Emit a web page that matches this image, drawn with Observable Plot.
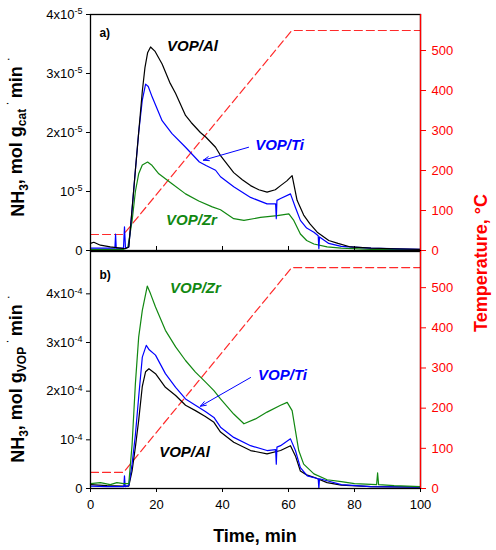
<!DOCTYPE html>
<html><head><meta charset="utf-8">
<script src="https://cdn.jsdelivr.net/npm/d3@7"></script>
<script src="https://cdn.jsdelivr.net/npm/@observablehq/plot@0.6"></script>
<style>
body{margin:0;background:#fff;}
#wrap{position:relative;width:496px;height:550px;overflow:hidden;background:#fff;}
#wrap > div, #wrap > svg{position:absolute;left:0;}
</style></head><body><div id="wrap"></div>
<script>
// ---------- Panel a) : NH3 per g cat (mantissa x 1e-5) ----------
const tAlA = [0, 1, 3, 6, 9, 10.5, 11.6, 12.6, 13.6, 14.6, 15.7, 16.5, 17.3, 18.2, 19.5, 21.7, 24, 25.8, 28.8, 30.5, 33.3, 35, 37.9, 39.4, 43.4, 46, 48.5, 51, 53.5, 56, 57.6, 59.5, 61.1, 62.6, 64.6, 66.5, 68.7, 72.2, 75, 78.8, 85, 92, 100];
const alA  = [0.12, 0.14, 0.09, 0.06, 0.04, 0.03, 0.06, 0.7, 1.36, 2.0, 2.7, 3.1, 3.35, 3.45, 3.38, 3.16, 2.85, 2.66, 2.29, 2.17, 2.0, 1.92, 1.75, 1.61, 1.32, 1.2, 1.1, 1.03, 0.99, 1.03, 1.10, 1.18, 1.27, 0.85, 0.6, 0.45, 0.31, 0.17, 0.12, 0.06, 0.04, 0.03, 0.02];

const tTiA = [0, 3, 7.4, 7.6, 7.8, 10, 10.3, 10.6, 11.6, 12.6, 13.6, 14.6, 15.7, 16.7, 17.5, 18.7, 21.7, 24.7, 28.8, 33, 35, 37.9, 39.4, 43.4, 48.5, 53.5, 56.1, 56.3, 56.5, 57.6, 60.6, 62.1, 63.6, 65.5, 67.7, 69, 69.2, 69.4, 72.2, 76, 85, 100];
const tiA  = [0.04, 0.04, 0.04, 0.28, 0.04, 0.04, 0.4, 0.04, 0.06, 0.7, 1.36, 2.0, 2.55, 2.82, 2.78, 2.6, 2.2, 1.98, 1.75, 1.5, 1.44, 1.36, 1.25, 1.08, 0.90, 0.79, 0.79, 0.54, 0.85, 0.88, 0.96, 0.73, 0.51, 0.38, 0.31, 0.25, 0.03, 0.23, 0.12, 0.07, 0.04, 0.02];

const tZrA = [0, 5, 10, 11.3, 12.6, 13.6, 14.6, 15.7, 17.3, 18.5, 20.7, 24.7, 28.8, 32.8, 36.9, 39.4, 43.4, 46.5, 51.5, 56.6, 60.1, 61.6, 63.6, 65.5, 67.7, 71.7, 76, 85, 100];
const zrA  = [0.02, 0.02, 0.02, 0.05, 0.5, 1.0, 1.3, 1.45, 1.50, 1.45, 1.30, 1.13, 0.96, 0.84, 0.74, 0.69, 0.54, 0.51, 0.56, 0.59, 0.62, 0.51, 0.28, 0.17, 0.11, 0.06, 0.04, 0.02, 0.01];

// ---------- Panel b) : NH3 per g VOP (mantissa x 1e-4) ----------
const tAlB = [0, 5, 10, 11.6, 12.6, 13.6, 14.6, 15.7, 16.7, 17.7, 19.7, 22.7, 25.8, 28.8, 31.8, 34.8, 37.4, 39.4, 43.4, 48.5, 53.5, 57.6, 60.6, 62.1, 63.6, 65.5, 67.7, 71.7, 76, 85, 100];
const alB  = [0.08, 0.06, 0.05, 0.05, 0.36, 0.85, 1.40, 2.10, 2.40, 2.46, 2.36, 2.08, 1.91, 1.71, 1.60, 1.48, 1.36, 1.16, 0.95, 0.78, 0.71, 0.78, 0.88, 0.67, 0.36, 0.28, 0.23, 0.12, 0.07, 0.04, 0.03];

const tTiB = [0, 5, 10.1, 10.3, 10.5, 11.6, 12.6, 13.6, 14.6, 15.7, 16.9, 17.8, 19.7, 22.7, 25.8, 28.8, 31.8, 34.8, 37.4, 39.4, 43.4, 48.5, 53.5, 56.1, 56.3, 56.5, 57.6, 60.6, 62.1, 63.6, 65.7, 69, 69.2, 69.4, 71.7, 76, 85, 100];
const tiB  = [0.05, 0.04, 0.04, 0.26, 0.04, 0.06, 0.5, 1.1, 1.88, 2.70, 2.94, 2.85, 2.74, 2.36, 2.08, 1.84, 1.71, 1.58, 1.46, 1.26, 1.05, 0.88, 0.78, 0.80, 0.50, 0.85, 0.88, 1.02, 0.78, 0.43, 0.26, 0.2, 0.0, 0.2, 0.16, 0.08, 0.04, 0.03];

const tZrB = [0, 3, 6, 8, 10, 11.6, 12.6, 13.6, 14.6, 15.7, 17.2, 18.2, 19.7, 22.7, 25.8, 28.8, 31.8, 34.8, 37.4, 39.4, 43.4, 46.5, 50, 53.5, 57.6, 59.6, 61.1, 62.1, 63.1, 64.6, 67.7, 71.7, 76, 80, 86.7, 87, 87.3, 92, 100];
const zrB  = [0.1, 0.12, 0.08, 0.12, 0.1, 0.1, 0.9, 2.15, 3.11, 3.66, 4.16, 4.0, 3.73, 3.25, 2.91, 2.63, 2.39, 2.19, 2.01, 1.84, 1.53, 1.33, 1.43, 1.57, 1.71, 1.77, 1.60, 1.19, 0.78, 0.50, 0.30, 0.18, 0.14, 0.1, 0.08, 0.32, 0.08, 0.06, 0.04];

// ---------- Temperature programme ----------
const tempT = [0, 10, 61, 100];
const tempV = [40, 40, 550, 550];

// ---------- Ticks ----------
const xTicks = [0, 20, 40, 60, 80, 100];
const xTicksInner = [20, 40, 60, 80];
const yTicksA = [0, 1e-5, 2e-5, 3e-5, 4e-5];
const yLabelsA = ["0", "10^-5", "2x10^-5", "3x10^-5", "4x10^-5"];
const yTicksB = [0, 1e-4, 2e-4, 3e-4, 4e-4];
const yLabelsB = ["0", "10^-4", "2x10^-4", "3x10^-4", "4x10^-4"];
const tempTicks = [0, 100, 200, 300, 400, 500];

// ---------- Annotations (data coords) ----------
const annA = [
  {t: 30.9, v: 3.46, text: "VOP/Al", color: "black"},
  {t: 57.3, v: 1.78, text: "VOP/Ti", color: "#0000ff"},
  {t: 30.6, v: 0.51, text: "VOP/Zr", color: "#118811"}
];
const arrowA = [{x1: 47.9, y1: 1.75, x2: 34.2, y2: 1.53}];
const annB = [
  {t: 31.8, v: 4.12, text: "VOP/Zr", color: "#118811"},
  {t: 28.5, v: 0.74, text: "VOP/Al", color: "black"},
  {t: 58.2, v: 2.32, text: "VOP/Ti", color: "#0000ff"}
];
const arrowB = [{x1: 48.5, y1: 2.28, x2: 33.3, y2: 1.69}];

const COL = {al: "black", ti: "#0000ff", zr: "#118811", temp: "#ff2a2a", axis: "#ff0000"};
const FONT = "'Liberation Sans', Arial, sans-serif";

function rows(ts, vs, f) { return ts.map((t, i) => ({t, v: vs[i] * f})); }

function supify(svg) {
  d3.select(svg).selectAll("text").each(function () {
    const s = this.textContent;
    if (s.includes("^")) {
      const [b, e] = s.split("^");
      this.textContent = b;
      d3.select(this).append("tspan").attr("dy", "-0.5em").attr("font-size", "9px").text(e);
    }
  });
}

function panel({f, ymax, series, ann, arrows, tag, yTicks, yLabels, height, marginTop, marginBottom, bottomAxis}) {
  const k = ymax / 590;
  const temp = tempT.map((t, i) => ({t, T: tempV[i]}));
  const labMap = new Map(yTicks.map((v, i) => [v, yLabels[i]]));
  const marks = [
    Plot.line(temp, {x: "t", y: d => d.T * k, stroke: COL.temp, strokeWidth: 1.2, strokeDasharray: "8,4"}),
    ...series.map(s => Plot.line(rows(s.t, s.v, f), {x: "t", y: "v", stroke: s.color, strokeWidth: 1.2})),
    Plot.frame({stroke: "black", strokeWidth: 1.3}),
    Plot.ruleX([100], {stroke: COL.axis, strokeWidth: 1.3}),
    Plot.axisY(yTicks, {anchor: "left", tickSize: 4, tickPadding: 4, tickFormat: d => labMap.get(d), label: null, fill: "black"}),
    Plot.axisY(tempTicks.map(t => t * k), {anchor: "right", tickSize: 5, tickPadding: 6, tickFormat: d => String(Math.round(d / k)), label: null, stroke: COL.axis, fill: COL.axis}),
    bottomAxis
      ? Plot.axisX(xTicks, {anchor: "bottom", tickSize: 4, tickPadding: 7, tickFormat: d => String(d), label: null})
      : Plot.axisX(xTicksInner, {anchor: "bottom", tickSize: 4, dy: -4, tickFormat: () => "", label: null}),
    Plot.text(ann, {x: "t", y: d => d.v * f, text: "text", fill: "color", fontWeight: "bold", fontStyle: "italic", fontSize: 15}),
    Plot.arrow(arrows, {x1: "x1", y1: d => d.y1 * f, x2: "x2", y2: d => d.y2 * f, stroke: COL.ti, strokeWidth: 1, headLength: 9, headAngle: 40}),
    Plot.text([tag], {x: 2.7, y: tag.v * f, text: d => d.text, fontWeight: "bold", fontSize: 12, textAnchor: "start", fill: "black"})
  ];
  const svg = Plot.plot({
    width: 496, height, marginTop, marginBottom, marginLeft: 90, marginRight: 76,
    x: {domain: [0, 100], axis: null},
    y: {domain: [0, ymax], axis: null},
    style: {fontFamily: FONT, fontSize: "13px", color: "black", background: "transparent", overflow: "visible"},
    marks
  });
  supify(svg);
  return svg;
}

const wrap = document.getElementById("wrap");

const svgA = panel({
  f: 1e-5, ymax: 4e-5,
  series: [{t: tZrA, v: zrA, color: COL.zr}, {t: tTiA, v: tiA, color: COL.ti}, {t: tAlA, v: alA, color: COL.al}],
  ann: annA, arrows: arrowA, tag: {text: "a)", v: 3.69},
  yTicks: yTicksA, yLabels: yLabelsA, height: 252, marginTop: 14, marginBottom: 2, bottomAxis: false
});
svgA.style.position = "absolute"; svgA.style.top = "0px"; svgA.style.left = "0px";
wrap.appendChild(svgA);

const svgB = panel({
  f: 1e-4, ymax: 4.87e-4,
  series: [{t: tAlB, v: alB, color: COL.al}, {t: tTiB, v: tiB, color: COL.ti}, {t: tZrB, v: zrB, color: COL.zr}],
  ann: annB, arrows: arrowB, tag: {text: "b)", v: 4.38},
  yTicks: yTicksB, yLabels: yLabelsB, height: 300, marginTop: 1, marginBottom: 62, bottomAxis: true
});
svgB.style.position = "absolute"; svgB.style.top = "250px"; svgB.style.left = "0px";
wrap.appendChild(svgB);

// ---------- Axis titles overlay ----------
const ov = d3.create("svg").attr("width", 496).attr("height", 550)
  .style("position", "absolute").style("top", "0px").style("left", "0px")
  .style("pointer-events", "none").style("font-family", FONT);

function yTitle(cy, subTxt) {
  const t = ov.append("text").attr("transform", `translate(24,${cy}) rotate(-90)`)
    .attr("text-anchor", "middle").attr("font-weight", "bold").attr("font-size", 18).attr("fill", "black");
  t.append("tspan").text("NH");
  t.append("tspan").attr("font-size", 12).attr("dy", "0.35em").text("3");
  t.append("tspan").attr("dy", "-0.35em").text(", mol g");
  t.append("tspan").attr("font-size", 12).attr("dy", "0.35em").text(subTxt);
  t.append("tspan").attr("font-size", 12).attr("font-weight", "normal").attr("dy", "-1.3em").text(" \u00B7 ");
  t.append("tspan").attr("dy", "0.62em").text(" min ");
  t.append("tspan").attr("font-size", 12).attr("font-weight", "normal").attr("dy", "-0.8em").text("\u00B7");
}
yTitle(137, "cat");
yTitle(379, "VOP");

ov.append("text").attr("transform", "translate(482,263) rotate(-90)")
  .attr("text-anchor", "middle").attr("dominant-baseline", "middle")
  .attr("font-weight", "bold").attr("font-size", 18).attr("fill", COL.axis)
  .text("Temperature, \u00B0C");

ov.append("text").attr("x", 255).attr("y", 542)
  .attr("text-anchor", "middle").attr("font-weight", "bold").attr("font-size", 18).attr("fill", "black")
  .text("Time, min");

wrap.appendChild(ov.node());
</script></body></html>
